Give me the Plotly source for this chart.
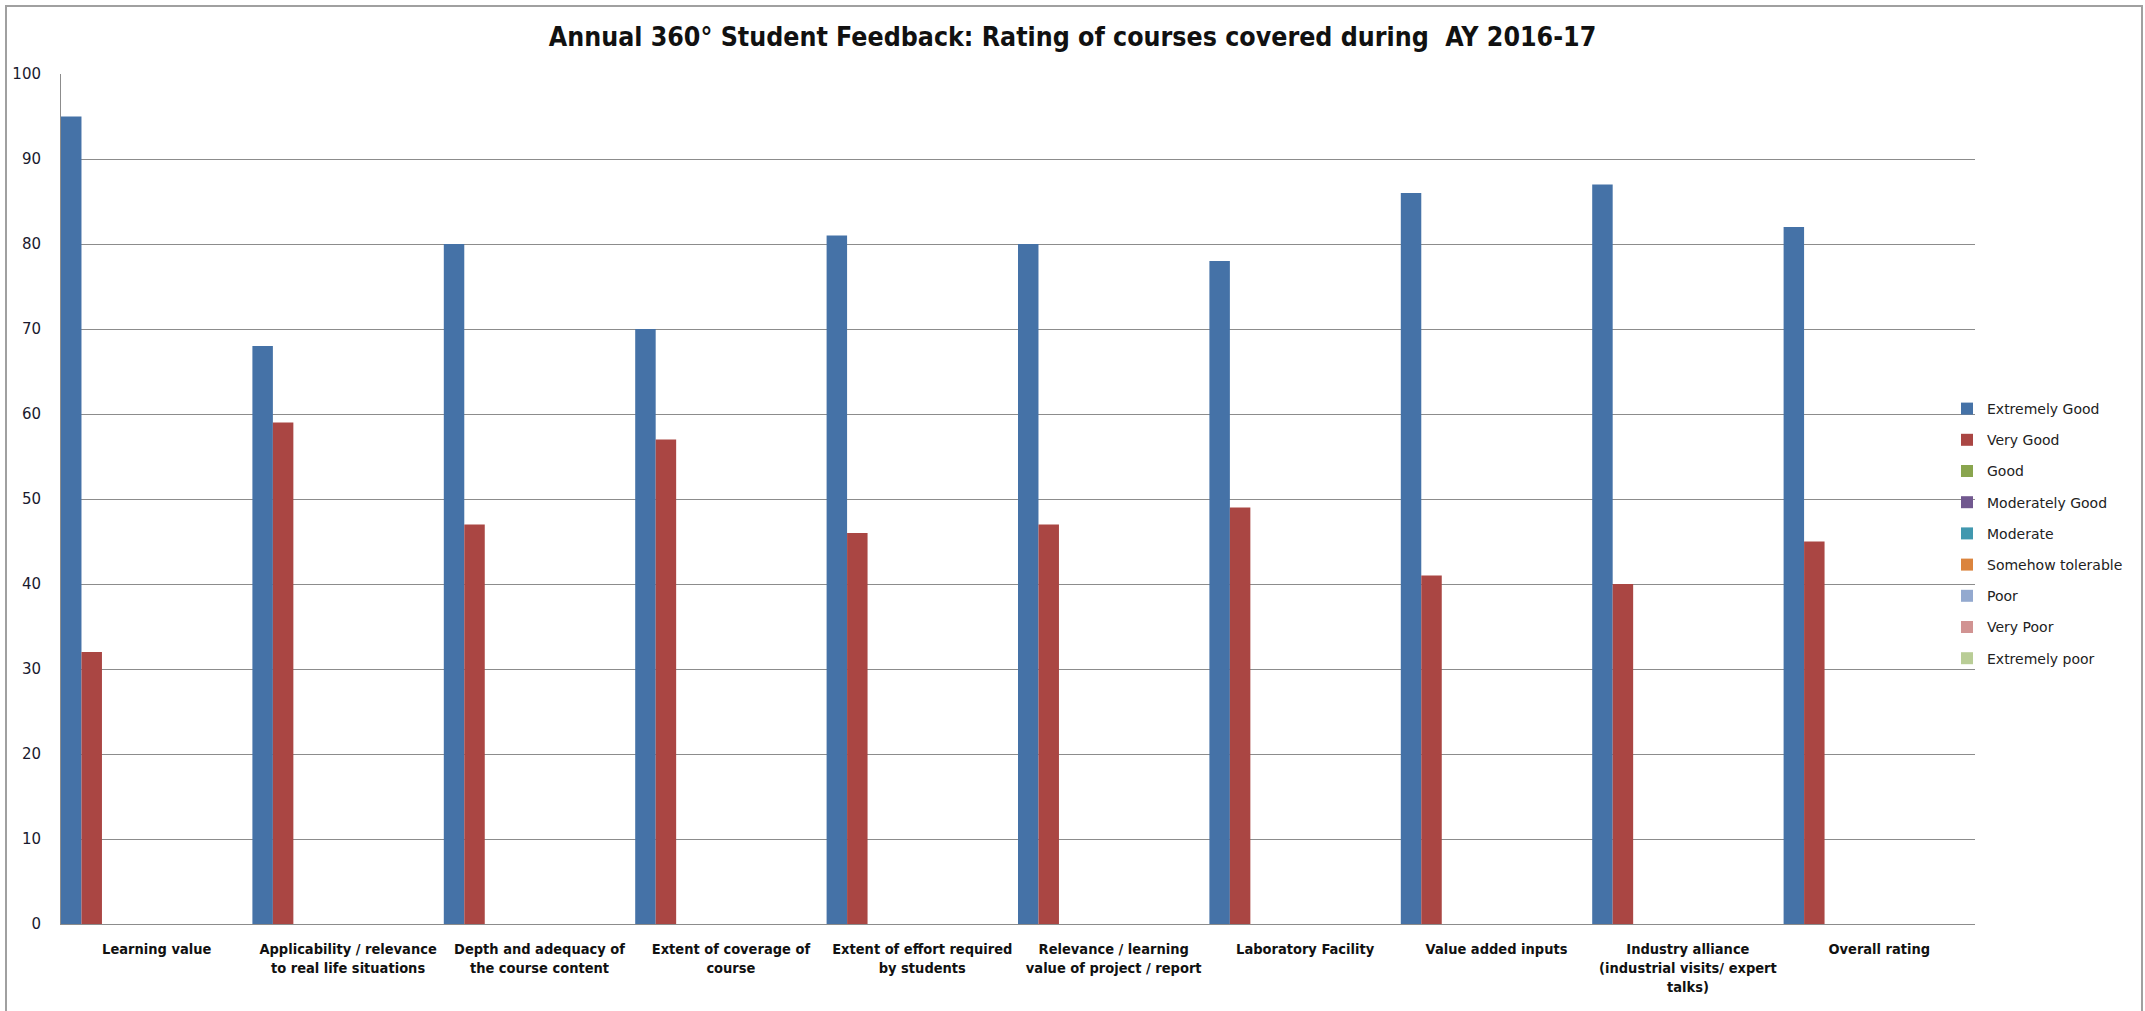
import plotly.graph_objects as go

categories = [
    "Learning value",
    "Applicability / relevance<br>to real life situations",
    "Depth and adequacy of<br>the course content",
    "Extent of coverage of<br>course",
    "Extent of effort required<br>by students",
    "Relevance / learning<br>value of project / report",
    "Laboratory Facility",
    "Value added inputs",
    "Industry alliance<br>(industrial visits/ expert<br>talks)",
    "Overall rating",
]

series_names = ["Extremely Good", "Very Good", "Good", "Moderately Good", "Moderate",
                "Somehow tolerable", "Poor", "Very Poor", "Extremely poor"]

extremely_good = [95, 68, 80, 70, 81, 80, 78, 86, 87, 82]
very_good = [32, 59, 47, 57, 46, 47, 49, 41, 40, 45]
good = [0] * 10
moderately_good = [0] * 10
moderate = [0] * 10
somehow_tolerable = [0] * 10
poor = [0] * 10
very_poor = [0] * 10
extremely_poor = [0] * 10

series_values = [extremely_good, very_good, good, moderately_good, moderate,
                 somehow_tolerable, poor, very_poor, extremely_poor]

colors = ["#4572A7", "#AA4643", "#89A54E", "#71588F", "#4198AF",
          "#DB843D", "#93A9CF", "#D19392", "#B9CD96"]

W, H = 2145, 1011
L, R, T, B = 61, 170, 74, 87
pw = W - L - R
ph = H - T - B

bar_w = 0.107

fig = go.Figure()
for i, (name, vals) in enumerate(zip(series_names, series_values)):
    fig.add_trace(go.Bar(
        x=categories, y=vals, name=name,
        marker=dict(color=colors[i], line=dict(width=0)),
        width=bar_w, offset=-0.5 + i * bar_w,
        legendgroup=name,
    ))

label_font = "Liberation Sans Narrow, DejaVu Sans Condensed, Arial Narrow, sans-serif"
tick_font = "DejaVu Sans, Verdana, sans-serif"

fig.update_layout(
    width=W, height=H,
    margin=dict(l=L, r=R, t=T, b=B, pad=0, autoexpand=False),
    paper_bgcolor="white", plot_bgcolor="white",
    barmode="overlay",
    title=dict(
        text="<b>Annual 360° Student Feedback: Rating of courses covered during  AY 2016-17</b>",
        x=0.5, xref="container", xanchor="center",
        y=1 - 37 / H, yref="container", yanchor="middle",
        font=dict(family=label_font, size=26.5, color="#111111"),
    ),
    xaxis=dict(
        showgrid=False, showline=True, linecolor="#8c8c8c", linewidth=1,
        ticks="", tickfont=dict(family=label_font, size=14.5, color="#111111", weight=700),
        ticklabelstandoff=12, range=[-0.5, 9.5], tickangle=0,
    ),
    yaxis=dict(
        range=[0, 100], dtick=10, showgrid=True, gridcolor="#8c8c8c", gridwidth=1,
        showline=True, linecolor="#8c8c8c", linewidth=1, zeroline=False,
        ticks="", tickfont=dict(family=tick_font, size=15, color="#1a1a2e"),
        ticklabelstandoff=16,
    ),
    legend=dict(
        x=(1947 - L) / pw, xanchor="left", y=(924 - 533.5) / ph, yanchor="middle",
        font=dict(family=tick_font, size=14, color="#222222"),
        tracegroupgap=10, itemwidth=30, bgcolor="rgba(0,0,0,0)",
    ),
    shapes=[dict(
        type="rect", xref="paper", yref="paper",
        x0=(6 - L) / pw, x1=(2142 - L) / pw,
        y0=-0.2, y1=(924 - 6) / ph,
        line=dict(color="#a0a0a0", width=2), fillcolor="rgba(0,0,0,0)", layer="below",
    )],
    showlegend=True,
)

fig.write_html("out.html")
